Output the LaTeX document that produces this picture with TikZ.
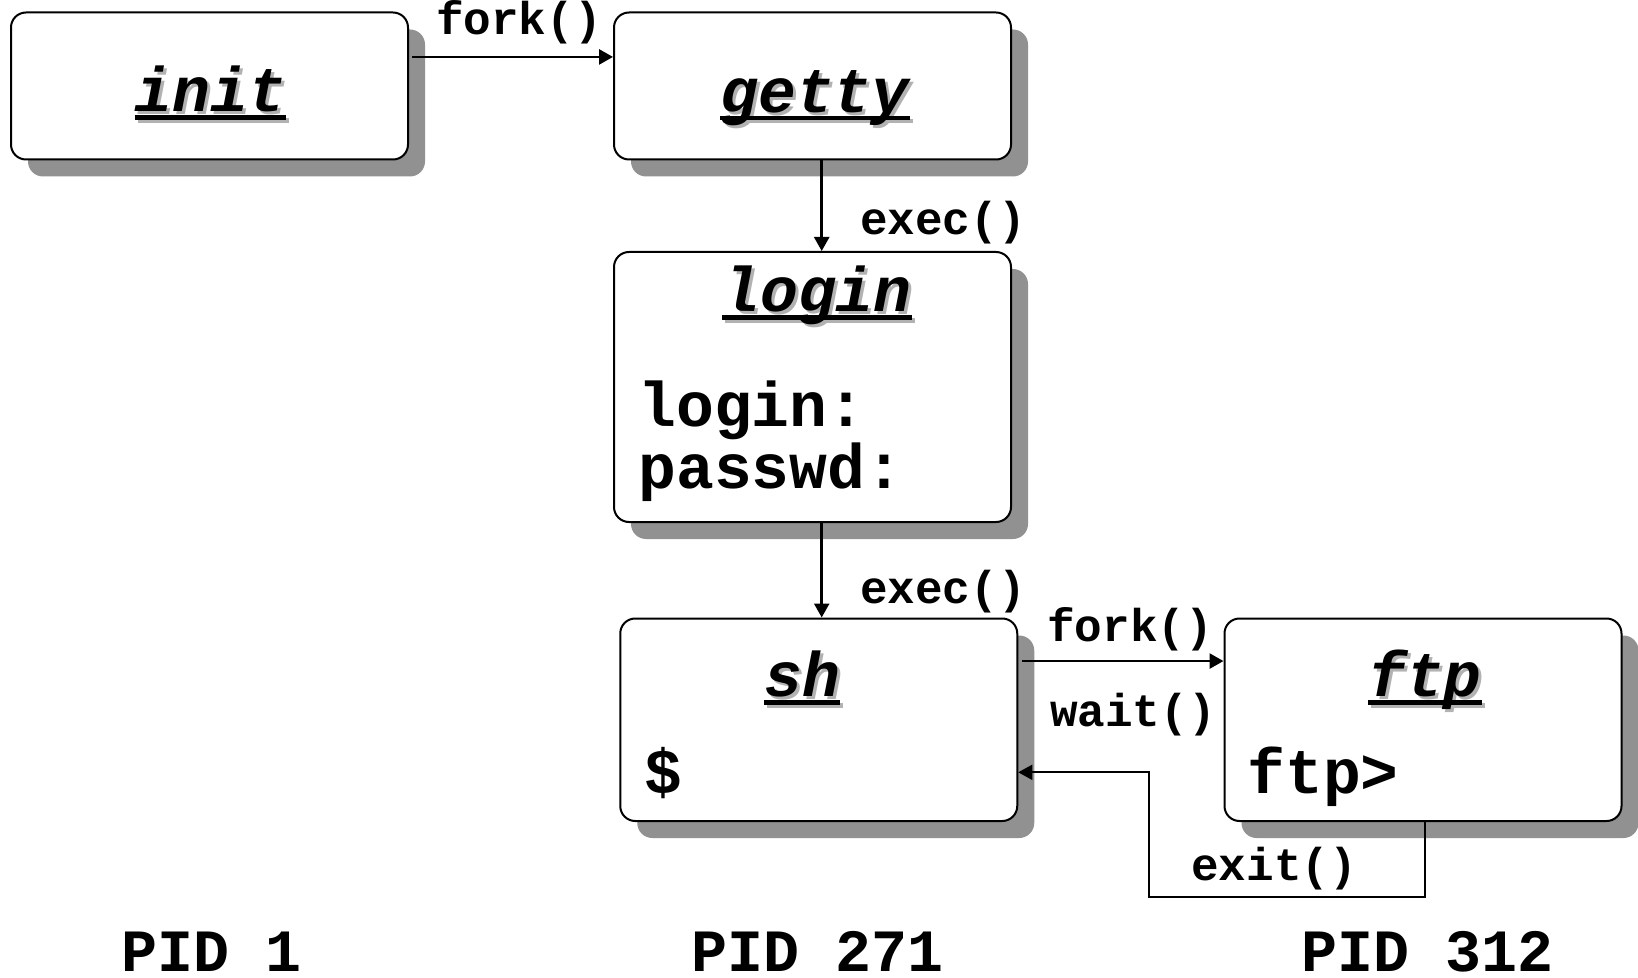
\documentclass[tikz,border=0pt]{standalone}
\usepackage{fontspec}
\newfontfamily\mono{Liberation Mono}
\usetikzlibrary{shadows,arrows.meta,calc}

\definecolor{boxshade}{RGB}{145,145,145}
\definecolor{textshade}{RGB}{178,178,178}

% underlined word, the rule as wide as the word
\newcommand\ulword[1]{\setbox0=\hbox{#1}\rlap{\copy0}\rule[-4pt]{\wd0}{2.3pt}}
% process title: underlined word with a grey offset copy behind it
\newcommand\proctitle[1]{\rlap{\hspace{1.5pt}\raisebox{-1.5pt}{\color{textshade}\ulword{#1}}}\ulword{#1}}

\tikzset{
  proc/.style={draw, line width=1pt, rounded corners=7.5pt, fill=white,
    minimum width=198.5pt, inner sep=0pt,
    drop shadow={shadow xshift=8.5pt, shadow yshift=-8.5pt, fill=boxshade, opacity=1}},
  ttl/.style={anchor=base, inner sep=0pt, font=\mono\bfseries\itshape\fontsize{31.5}{36}\selectfont},
  body/.style={anchor=base west, inner sep=0pt, font=\mono\bfseries\fontsize{31.5}{28.3}\selectfont},
  call/.style={anchor=base, inner sep=0pt, font=\mono\bfseries\fontsize{23}{26}\selectfont},
  pid/.style={anchor=base, inner sep=0pt, font=\mono\bfseries\fontsize{30}{34}\selectfont},
  arr/.style={line width=1.3pt, -{Triangle[length=7pt,width=7.5pt]}},
  ret/.style={line width=0.85pt, -{Triangle[length=7pt,width=7.5pt]}}
}

\begin{document}
\begin{tikzpicture}[x=0.5pt, y=-0.5pt]
\useasboundingbox (0,0) rectangle (1638,978);

% processes
\node[proc, minimum height=73.5pt]   (init)  at (209.5,86)      {};
\node[proc, minimum height=73.5pt]   (getty) at (812.5,86)      {};
\node[proc, minimum height=135pt]    (login) at (812.5,387)     {};
\node[proc, minimum height=101.25pt] (sh)    at (818.75,719.75) {};
\node[proc, minimum height=101.25pt] (ftp)   at (1423,719.75)   {};

% titles
\node[ttl] (initT)  at (210.5,111.7) {\proctitle{init}};
\node[ttl] (gettyT) at (815,112.5)   {\proctitle{getty}};
\node[ttl] (loginT) at (817,311.7)   {\proctitle{login}};
\node[ttl] (shT)    at (802,696.7)   {\proctitle{sh}};
\node[ttl] (ftpT)   at (1425,696.7)  {\proctitle{ftp}};

% terminal prompts (base of a two-line node is its last line)
\node[body, align=left] (promptL) at (638,488) {login:\\passwd:};
\node[body] (promptS) at (644.5,793) {\$};
\node[body] (promptF) at (1247,793)  {ftp>};

% system calls
\node[call] (cFork1) at (519,35)     {fork()};
\node[call] (cExec1) at (943,235)    {exec()};
\node[call] (cExec2) at (943,603.8)  {exec()};
\node[call] (cFork2) at (1130,641.7) {fork()};
\node[call] (cWait)  at (1133,726.7) {wait()};
\node[call] (cExit)  at (1274,880)   {exit()};

% process ids
\node[pid] (pid1)   at (211.5,971) {PID 1};
\node[pid] (pid271) at (818,971)   {PID 271};
\node[pid] (pid312) at (1428,971)  {PID 312};

% connectors
\draw[arr] ([xshift=1.5pt]$(init.north east)!.305!(init.south east)$) -- ($(getty.north west)!.305!(getty.south west)$);
\draw[arr] ([xshift=4.6pt]getty.south) -- ([xshift=4.6pt]login.north);
\draw[arr] ([xshift=4.6pt]login.south) -- ([xshift=4.6pt]login.south |- sh.north);
\draw[arr] ([xshift=2pt]$(sh.north east)!.213!(sh.south east)$) -- ($(ftp.north west)!.213!(ftp.south west)$);
\coordinate (turn) at (1149.3,897.3);
\draw[ret] ([xshift=1pt]ftp.south) |- (turn) |- ($(sh.north east)!.757!(sh.south east)$);
\end{tikzpicture}
\end{document}
